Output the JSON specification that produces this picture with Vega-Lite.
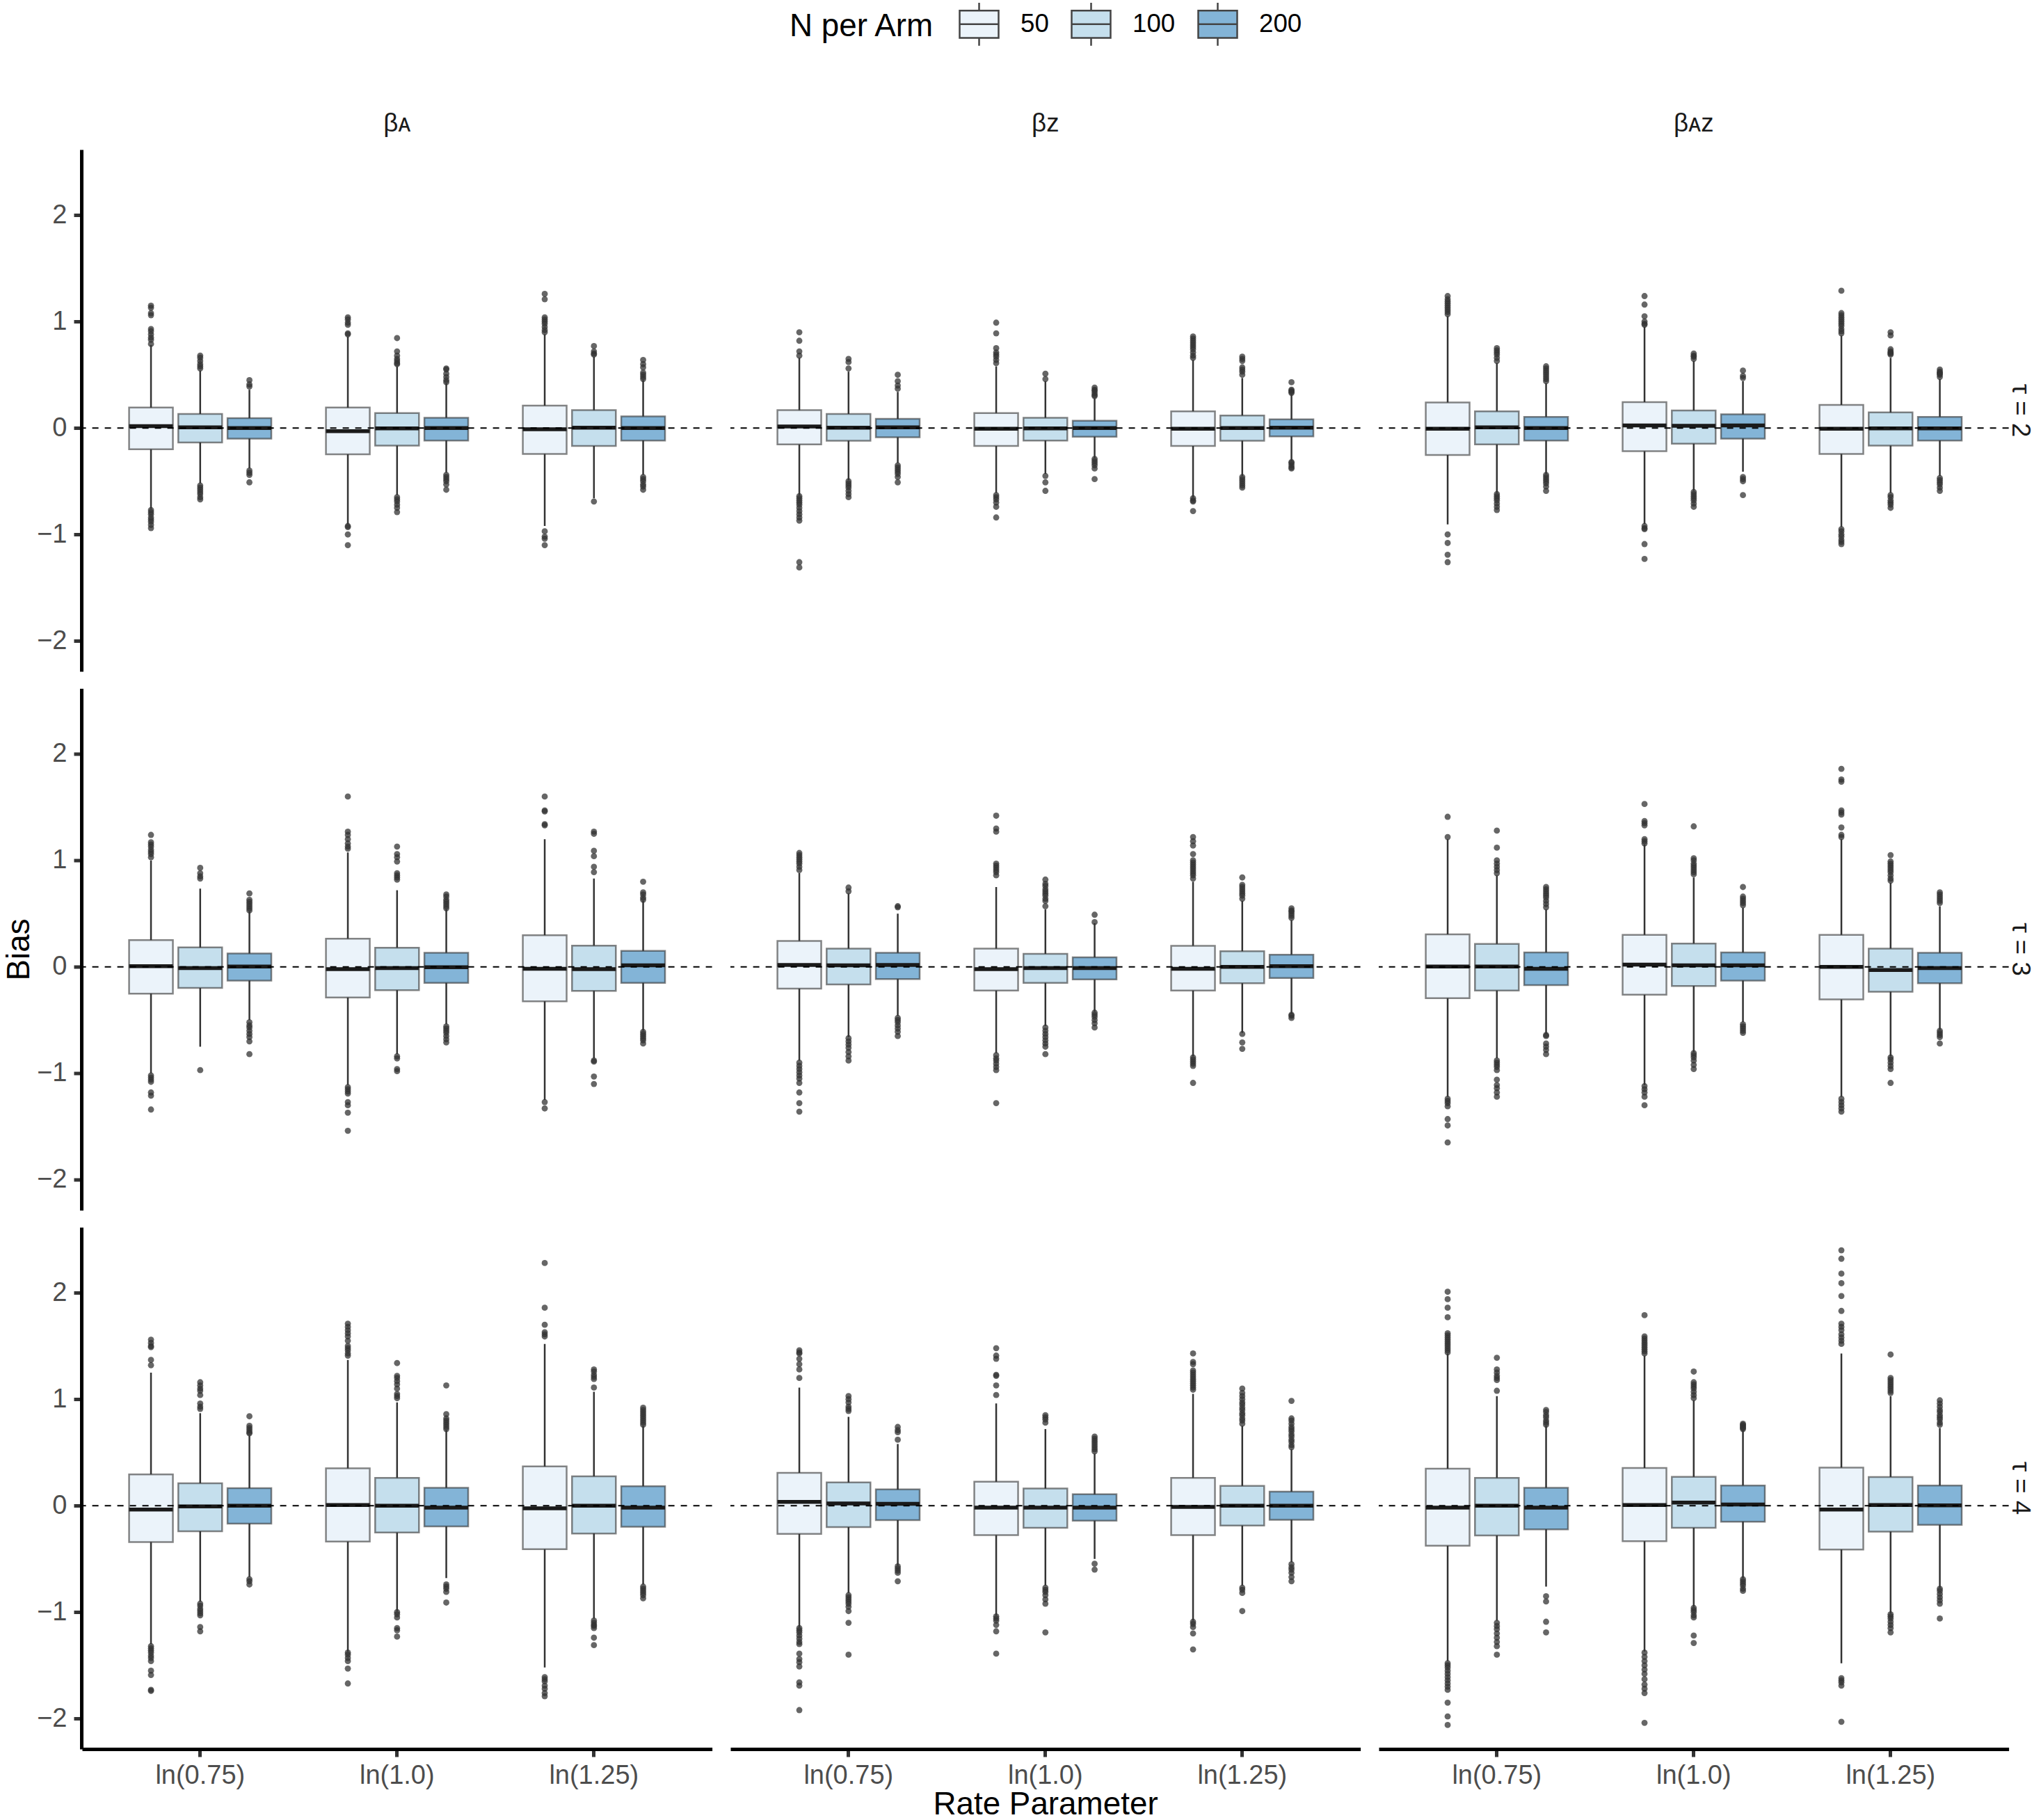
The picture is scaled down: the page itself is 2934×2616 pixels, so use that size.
{
  "$schema": "https://vega.github.io/schema/vega-lite/v6.json",
  "background": "white",
  "padding": {"left": 5, "top": 5, "right": 14, "bottom": 4},
  "data": {"values": [
    {"t":"τ = 2","p":"βᴀ","r":"ln(0.75)","N":"50","lo":-0.76,"q1":-0.2,"md":0.018,"q3":0.193,"hi":0.78,"out":[1.15,1.13,1.08,1.06,0.93,0.91,0.88,0.85,0.83,0.79,-0.77,-0.79,-0.81,-0.84,-0.86,-0.88,-0.91,-0.94]},
    {"t":"τ = 2","p":"βᴀ","r":"ln(0.75)","N":"100","lo":-0.52,"q1":-0.136,"md":0.007,"q3":0.132,"hi":0.54,"out":[0.68,0.66,0.63,0.6,0.58,0.56,-0.54,-0.56,-0.58,-0.6,-0.62,-0.65,-0.67]},
    {"t":"τ = 2","p":"βᴀ","r":"ln(0.75)","N":"200","lo":-0.38,"q1":-0.1,"md":0.0,"q3":0.093,"hi":0.36,"out":[0.45,0.41,0.39,-0.4,-0.42,-0.44,-0.51]},
    {"t":"τ = 2","p":"βᴀ","r":"ln(1.0)","N":"50","lo":-0.9,"q1":-0.247,"md":-0.029,"q3":0.193,"hi":0.86,"out":[1.04,1.02,0.99,0.97,0.89,0.88,-0.92,-0.93,-1.0,-1.1]},
    {"t":"τ = 2","p":"βᴀ","r":"ln(1.0)","N":"100","lo":-0.63,"q1":-0.165,"md":-0.004,"q3":0.14,"hi":0.58,"out":[0.845,0.72,0.68,0.65,0.63,0.61,0.6,-0.65,-0.67,-0.69,-0.72,-0.75,-0.79]},
    {"t":"τ = 2","p":"βᴀ","r":"ln(1.0)","N":"200","lo":-0.42,"q1":-0.118,"md":0.0,"q3":0.097,"hi":0.42,"out":[0.56,0.55,0.51,0.48,0.45,0.43,-0.44,-0.46,-0.48,-0.5,-0.53,-0.58]},
    {"t":"τ = 2","p":"βᴀ","r":"ln(1.25)","N":"50","lo":-0.92,"q1":-0.243,"md":-0.011,"q3":0.21,"hi":0.88,"out":[1.26,1.21,1.04,1.02,1.0,0.98,0.95,0.92,0.9,-0.97,-1.02,-1.04,-1.1]},
    {"t":"τ = 2","p":"βᴀ","r":"ln(1.25)","N":"100","lo":-0.66,"q1":-0.168,"md":0.004,"q3":0.168,"hi":0.67,"out":[0.77,0.72,0.7,0.69,-0.69]},
    {"t":"τ = 2","p":"βᴀ","r":"ln(1.25)","N":"200","lo":-0.44,"q1":-0.118,"md":0.0,"q3":0.11,"hi":0.45,"out":[0.64,0.6,0.57,0.52,0.5,0.48,0.46,-0.46,-0.48,-0.5,-0.53,-0.55,-0.58]},

    {"t":"τ = 2","p":"βᴢ","r":"ln(0.75)","N":"50","lo":-0.63,"q1":-0.154,"md":0.014,"q3":0.168,"hi":0.66,"out":[0.9,0.82,0.72,0.68,-0.64,-0.66,-0.68,-0.7,-0.72,-0.75,-0.78,-0.81,-0.84,-0.87,-1.26,-1.31]},
    {"t":"τ = 2","p":"βᴢ","r":"ln(0.75)","N":"100","lo":-0.49,"q1":-0.12,"md":0.004,"q3":0.132,"hi":0.53,"out":[0.65,0.62,0.56,-0.5,-0.52,-0.54,-0.56,-0.59,-0.62,-0.65]},
    {"t":"τ = 2","p":"βᴢ","r":"ln(0.75)","N":"200","lo":-0.33,"q1":-0.086,"md":0.007,"q3":0.086,"hi":0.34,"out":[0.5,0.44,0.4,0.37,-0.35,-0.37,-0.39,-0.41,-0.43,-0.46,-0.51]},
    {"t":"τ = 2","p":"βᴢ","r":"ln(1.0)","N":"50","lo":-0.61,"q1":-0.168,"md":-0.007,"q3":0.14,"hi":0.58,"out":[0.99,0.89,0.75,0.71,0.69,0.67,0.64,0.61,-0.63,-0.65,-0.67,-0.7,-0.74,-0.84]},
    {"t":"τ = 2","p":"βᴢ","r":"ln(1.0)","N":"100","lo":-0.43,"q1":-0.118,"md":-0.004,"q3":0.097,"hi":0.44,"out":[0.51,0.46,-0.45,-0.51,-0.59]},
    {"t":"τ = 2","p":"βᴢ","r":"ln(1.0)","N":"200","lo":-0.28,"q1":-0.082,"md":0.0,"q3":0.068,"hi":0.28,"out":[0.38,0.36,0.35,0.33,0.31,0.3,-0.29,-0.31,-0.33,-0.35,-0.38,-0.48]},
    {"t":"τ = 2","p":"βᴢ","r":"ln(1.25)","N":"50","lo":-0.65,"q1":-0.168,"md":-0.007,"q3":0.157,"hi":0.64,"out":[0.86,0.84,0.82,0.8,0.78,0.76,0.74,0.71,0.68,0.66,-0.66,-0.68,-0.69,-0.78]},
    {"t":"τ = 2","p":"βᴢ","r":"ln(1.25)","N":"100","lo":-0.45,"q1":-0.12,"md":0.0,"q3":0.118,"hi":0.47,"out":[0.67,0.65,0.63,0.57,0.55,0.53,0.5,-0.46,-0.48,-0.5,-0.52,-0.54,-0.56]},
    {"t":"τ = 2","p":"βᴢ","r":"ln(1.25)","N":"200","lo":-0.31,"q1":-0.079,"md":0.004,"q3":0.082,"hi":0.32,"out":[0.43,0.36,0.35,0.34,0.33,-0.32,-0.33,-0.35,-0.37,-0.38]},

    {"t":"τ = 2","p":"βᴀᴢ","r":"ln(0.75)","N":"50","lo":-0.905,"q1":-0.254,"md":-0.007,"q3":0.24,"hi":1.05,"out":[1.24,1.21,1.19,1.17,1.15,1.13,1.11,1.09,1.07,-1.0,-1.08,-1.19,-1.26]},
    {"t":"τ = 2","p":"βᴀᴢ","r":"ln(0.75)","N":"100","lo":-0.61,"q1":-0.154,"md":0.007,"q3":0.157,"hi":0.61,"out":[0.75,0.73,0.71,0.69,0.66,0.63,-0.62,-0.64,-0.66,-0.68,-0.71,-0.74,-0.77]},
    {"t":"τ = 2","p":"βᴀᴢ","r":"ln(0.75)","N":"200","lo":-0.43,"q1":-0.118,"md":0.0,"q3":0.104,"hi":0.42,"out":[0.58,0.56,0.54,0.52,0.5,0.48,0.46,0.44,-0.44,-0.46,-0.48,-0.5,-0.52,-0.55,-0.59]},
    {"t":"τ = 2","p":"βᴀᴢ","r":"ln(1.0)","N":"50","lo":-0.9,"q1":-0.218,"md":0.025,"q3":0.243,"hi":0.95,"out":[1.24,1.16,1.05,1.0,0.98,0.97,-0.92,-0.94,-0.95,-1.09,-1.23]},
    {"t":"τ = 2","p":"βᴀᴢ","r":"ln(1.0)","N":"100","lo":-0.59,"q1":-0.147,"md":0.021,"q3":0.165,"hi":0.63,"out":[0.7,0.68,0.67,0.65,-0.6,-0.62,-0.64,-0.66,-0.68,-0.71,-0.74]},
    {"t":"τ = 2","p":"βᴀᴢ","r":"ln(1.0)","N":"200","lo":-0.41,"q1":-0.1,"md":0.025,"q3":0.129,"hi":0.44,"out":[0.54,0.49,0.47,-0.46,-0.48,-0.5,-0.63]},
    {"t":"τ = 2","p":"βᴀᴢ","r":"ln(1.25)","N":"50","lo":-0.93,"q1":-0.243,"md":-0.007,"q3":0.218,"hi":0.87,"out":[1.29,1.08,1.06,1.04,1.02,1.0,0.98,0.96,0.93,0.91,0.89,-0.95,-0.97,-1.0,-1.02,-1.05,-1.07,-1.09]},
    {"t":"τ = 2","p":"βᴀᴢ","r":"ln(1.25)","N":"100","lo":-0.61,"q1":-0.165,"md":-0.004,"q3":0.147,"hi":0.66,"out":[0.9,0.87,0.74,0.72,0.71,0.7,0.69,-0.63,-0.65,-0.68,-0.7,-0.72,-0.75]},
    {"t":"τ = 2","p":"βᴀᴢ","r":"ln(1.25)","N":"200","lo":-0.45,"q1":-0.118,"md":-0.004,"q3":0.104,"hi":0.46,"out":[0.55,0.53,0.52,0.51,0.5,0.48,-0.47,-0.49,-0.51,-0.53,-0.56,-0.59]},

    {"t":"τ = 3","p":"βᴀ","r":"ln(0.75)","N":"50","lo":-1.0,"q1":-0.251,"md":0.007,"q3":0.251,"hi":1.0,"out":[1.24,1.17,1.15,1.13,1.1,1.08,1.06,1.03,-1.02,-1.04,-1.06,-1.08,-1.18,-1.21,-1.34]},
    {"t":"τ = 3","p":"βᴀ","r":"ln(0.75)","N":"100","lo":-0.75,"q1":-0.197,"md":-0.011,"q3":0.183,"hi":0.735,"out":[0.93,0.88,0.85,0.83,-0.97]},
    {"t":"τ = 3","p":"βᴀ","r":"ln(0.75)","N":"200","lo":-0.5,"q1":-0.129,"md":0.004,"q3":0.125,"hi":0.52,"out":[0.69,0.63,0.61,0.59,0.57,0.55,0.53,-0.52,-0.55,-0.57,-0.6,-0.63,-0.66,-0.7,-0.82]},
    {"t":"τ = 3","p":"βᴀ","r":"ln(1.0)","N":"50","lo":-1.11,"q1":-0.287,"md":-0.022,"q3":0.265,"hi":1.075,"out":[1.6,1.27,1.24,1.2,1.16,1.13,1.11,-1.13,-1.15,-1.17,-1.19,-1.27,-1.3,-1.37,-1.54]},
    {"t":"τ = 3","p":"βᴀ","r":"ln(1.0)","N":"100","lo":-0.82,"q1":-0.219,"md":-0.011,"q3":0.179,"hi":0.72,"out":[1.13,1.06,1.03,0.99,0.88,0.86,0.84,0.82,-0.84,-0.86,-0.96,-0.98]},
    {"t":"τ = 3","p":"βᴀ","r":"ln(1.0)","N":"200","lo":-0.54,"q1":-0.15,"md":-0.004,"q3":0.133,"hi":0.54,"out":[0.68,0.66,0.63,0.61,0.59,0.57,0.55,-0.56,-0.58,-0.6,-0.62,-0.65,-0.68,-0.71]},
    {"t":"τ = 3","p":"βᴀ","r":"ln(1.25)","N":"50","lo":-1.25,"q1":-0.323,"md":-0.018,"q3":0.297,"hi":1.2,"out":[1.6,1.47,1.46,1.34,1.33,-1.27,-1.33]},
    {"t":"τ = 3","p":"βᴀ","r":"ln(1.25)","N":"100","lo":-0.86,"q1":-0.226,"md":-0.022,"q3":0.2,"hi":0.83,"out":[1.27,1.25,1.09,1.04,0.94,0.89,-0.88,-0.89,-1.03,-1.1]},
    {"t":"τ = 3","p":"βᴀ","r":"ln(1.25)","N":"200","lo":-0.6,"q1":-0.15,"md":0.014,"q3":0.15,"hi":0.62,"out":[0.8,0.7,0.68,0.65,0.63,-0.61,-0.63,-0.65,-0.67,-0.69,-0.72]},

    {"t":"τ = 3","p":"βᴢ","r":"ln(0.75)","N":"50","lo":-0.88,"q1":-0.204,"md":0.018,"q3":0.244,"hi":0.88,"out":[1.07,1.05,1.03,1.01,0.99,0.97,0.94,0.91,-0.9,-0.93,-0.96,-0.99,-1.02,-1.05,-1.09,-1.18,-1.28,-1.36]},
    {"t":"τ = 3","p":"βᴢ","r":"ln(0.75)","N":"100","lo":-0.66,"q1":-0.165,"md":0.014,"q3":0.172,"hi":0.69,"out":[0.745,0.71,-0.67,-0.7,-0.73,-0.76,-0.8,-0.84,-0.88]},
    {"t":"τ = 3","p":"βᴢ","r":"ln(0.75)","N":"200","lo":-0.46,"q1":-0.115,"md":0.018,"q3":0.133,"hi":0.5,"out":[0.57,0.56,-0.48,-0.5,-0.52,-0.55,-0.58,-0.61,-0.65]},
    {"t":"τ = 3","p":"βᴢ","r":"ln(1.0)","N":"50","lo":-0.81,"q1":-0.222,"md":-0.022,"q3":0.172,"hi":0.75,"out":[1.42,1.3,1.27,0.97,0.95,0.93,0.91,0.89,0.86,-0.83,-0.86,-0.88,-0.91,-0.94,-0.97,-1.28]},
    {"t":"τ = 3","p":"βᴢ","r":"ln(1.0)","N":"100","lo":-0.555,"q1":-0.15,"md":-0.011,"q3":0.122,"hi":0.54,"out":[0.82,0.78,0.76,0.73,0.71,0.69,0.67,0.64,0.62,0.57,-0.57,-0.6,-0.63,-0.66,-0.69,-0.72,-0.75,-0.82]},
    {"t":"τ = 3","p":"βᴢ","r":"ln(1.0)","N":"200","lo":-0.42,"q1":-0.118,"md":-0.011,"q3":0.09,"hi":0.41,"out":[0.49,0.42,-0.43,-0.45,-0.47,-0.5,-0.53,-0.57]},
    {"t":"τ = 3","p":"βᴢ","r":"ln(1.25)","N":"50","lo":-0.84,"q1":-0.222,"md":-0.018,"q3":0.197,"hi":0.8,"out":[1.22,1.18,1.14,1.06,1.0,0.98,0.96,0.94,0.92,0.9,0.88,0.86,0.83,-0.85,-0.87,-0.89,-0.91,-0.93,-1.09]},
    {"t":"τ = 3","p":"βᴢ","r":"ln(1.25)","N":"100","lo":-0.62,"q1":-0.154,"md":0.0,"q3":0.147,"hi":0.62,"out":[0.84,0.77,0.75,0.73,0.71,0.69,0.67,0.64,-0.63,-0.71,-0.77]},
    {"t":"τ = 3","p":"βᴢ","r":"ln(1.25)","N":"200","lo":-0.44,"q1":-0.104,"md":0.007,"q3":0.115,"hi":0.44,"out":[0.55,0.53,0.52,0.5,0.48,0.46,-0.45,-0.46,-0.48]},

    {"t":"τ = 3","p":"βᴀᴢ","r":"ln(0.75)","N":"50","lo":-1.22,"q1":-0.294,"md":0.004,"q3":0.305,"hi":1.2,"out":[1.41,1.22,-1.24,-1.26,-1.28,-1.31,-1.43,-1.49,-1.65]},
    {"t":"τ = 3","p":"βᴀᴢ","r":"ln(0.75)","N":"100","lo":-0.86,"q1":-0.222,"md":0.004,"q3":0.215,"hi":0.86,"out":[1.28,1.12,1.0,0.97,0.94,0.91,0.88,-0.88,-0.9,-0.92,-0.94,-0.97,-1.06,-1.11,-1.14,-1.18,-1.22]},
    {"t":"τ = 3","p":"βᴀᴢ","r":"ln(0.75)","N":"200","lo":-0.63,"q1":-0.172,"md":-0.018,"q3":0.136,"hi":0.54,"out":[0.75,0.73,0.71,0.69,0.67,0.65,0.62,0.59,0.56,-0.64,-0.65,-0.72,-0.75,-0.78,-0.82]},
    {"t":"τ = 3","p":"βᴀᴢ","r":"ln(1.0)","N":"50","lo":-1.11,"q1":-0.262,"md":0.022,"q3":0.3,"hi":1.15,"out":[1.53,1.37,1.35,1.33,1.2,1.18,1.16,-1.12,-1.15,-1.18,-1.22,-1.3]},
    {"t":"τ = 3","p":"βᴀᴢ","r":"ln(1.0)","N":"100","lo":-0.8,"q1":-0.179,"md":0.014,"q3":0.219,"hi":0.84,"out":[1.32,1.02,1.0,0.97,0.95,0.93,0.91,0.89,0.87,-0.81,-0.83,-0.85,-0.88,-0.92,-0.96]},
    {"t":"τ = 3","p":"βᴀᴢ","r":"ln(1.0)","N":"200","lo":-0.52,"q1":-0.129,"md":0.014,"q3":0.136,"hi":0.555,"out":[0.75,0.66,0.64,0.62,0.6,0.58,-0.54,-0.56,-0.58,-0.6,-0.62]},
    {"t":"τ = 3","p":"βᴀᴢ","r":"ln(1.25)","N":"50","lo":-1.22,"q1":-0.305,"md":0.0,"q3":0.3,"hi":1.2,"out":[1.86,1.76,1.74,1.47,1.45,1.43,1.31,1.24,1.22,-1.24,-1.27,-1.3,-1.33,-1.36]},
    {"t":"τ = 3","p":"βᴀᴢ","r":"ln(1.25)","N":"100","lo":-0.84,"q1":-0.233,"md":-0.029,"q3":0.172,"hi":0.79,"out":[1.05,0.99,0.97,0.95,0.93,0.91,0.89,0.86,0.83,0.81,-0.85,-0.87,-0.9,-0.93,-0.96,-1.09]},
    {"t":"τ = 3","p":"βᴀᴢ","r":"ln(1.25)","N":"200","lo":-0.59,"q1":-0.154,"md":-0.011,"q3":0.133,"hi":0.57,"out":[0.7,0.68,0.66,0.64,0.62,0.6,-0.6,-0.62,-0.64,-0.66,-0.72]},

    {"t":"τ = 4","p":"βᴀ","r":"ln(0.75)","N":"50","lo":-1.3,"q1":-0.341,"md":-0.036,"q3":0.294,"hi":1.25,"out":[1.56,1.53,1.5,1.49,1.37,1.32,-1.32,-1.34,-1.36,-1.38,-1.41,-1.43,-1.46,-1.55,-1.59,-1.73,-1.74]},
    {"t":"τ = 4","p":"βᴀ","r":"ln(0.75)","N":"100","lo":-0.9,"q1":-0.24,"md":-0.007,"q3":0.211,"hi":0.87,"out":[1.16,1.13,1.1,1.08,1.04,0.96,0.93,0.91,-0.92,-0.94,-0.97,-0.99,-1.01,-1.03,-1.14,-1.18]},
    {"t":"τ = 4","p":"βᴀ","r":"ln(0.75)","N":"200","lo":-0.67,"q1":-0.168,"md":0.0,"q3":0.165,"hi":0.66,"out":[0.84,0.75,0.73,0.71,0.69,0.68,-0.69,-0.71,-0.74]},
    {"t":"τ = 4","p":"βᴀ","r":"ln(1.0)","N":"50","lo":-1.37,"q1":-0.337,"md":0.007,"q3":0.351,"hi":1.37,"out":[1.71,1.68,1.65,1.62,1.59,1.55,1.5,1.48,1.46,1.43,1.41,-1.38,-1.4,-1.43,-1.46,-1.53,-1.67]},
    {"t":"τ = 4","p":"βᴀ","r":"ln(1.0)","N":"100","lo":-0.99,"q1":-0.251,"md":0.0,"q3":0.262,"hi":0.97,"out":[1.34,1.22,1.2,1.17,1.14,1.1,1.05,1.03,1.01,-1.0,-1.02,-1.05,-1.15,-1.17,-1.23]},
    {"t":"τ = 4","p":"βᴀ","r":"ln(1.0)","N":"200","lo":-0.68,"q1":-0.194,"md":-0.018,"q3":0.168,"hi":0.71,"out":[1.13,0.86,0.82,0.8,0.78,0.76,0.74,0.72,-0.74,-0.76,-0.78,-0.81,-0.91]},
    {"t":"τ = 4","p":"βᴀ","r":"ln(1.25)","N":"50","lo":-1.52,"q1":-0.409,"md":-0.025,"q3":0.369,"hi":1.52,"out":[2.28,1.86,1.7,1.63,1.61,1.59,-1.61,-1.63,-1.65,-1.69,-1.72,-1.76,-1.79]},
    {"t":"τ = 4","p":"βᴀ","r":"ln(1.25)","N":"100","lo":-1.06,"q1":-0.262,"md":0.0,"q3":0.276,"hi":1.07,"out":[1.28,1.26,1.23,1.21,1.19,1.11,-1.08,-1.1,-1.12,-1.13,-1.15,-1.24,-1.31]},
    {"t":"τ = 4","p":"βᴀ","r":"ln(1.25)","N":"200","lo":-0.74,"q1":-0.197,"md":-0.018,"q3":0.183,"hi":0.75,"out":[0.92,0.9,0.88,0.86,0.84,0.82,0.8,0.78,0.76,-0.76,-0.78,-0.8,-0.82,-0.84,-0.87]},

    {"t":"τ = 4","p":"βᴢ","r":"ln(0.75)","N":"50","lo":-1.14,"q1":-0.265,"md":0.036,"q3":0.308,"hi":1.11,"out":[1.46,1.44,1.43,1.38,1.33,1.28,1.2,-1.15,-1.17,-1.19,-1.22,-1.25,-1.28,-1.3,-1.39,-1.44,-1.47,-1.51,-1.66,-1.69,-1.92]},
    {"t":"τ = 4","p":"βᴢ","r":"ln(0.75)","N":"100","lo":-0.82,"q1":-0.201,"md":0.022,"q3":0.219,"hi":0.835,"out":[1.03,1.0,0.97,0.93,0.91,0.89,-0.84,-0.86,-0.88,-0.9,-0.92,-0.95,-0.99,-1.1,-1.4]},
    {"t":"τ = 4","p":"βᴢ","r":"ln(0.75)","N":"200","lo":-0.56,"q1":-0.136,"md":0.018,"q3":0.154,"hi":0.58,"out":[0.74,0.71,0.69,0.62,-0.57,-0.59,-0.61,-0.63,-0.71]},
    {"t":"τ = 4","p":"βᴢ","r":"ln(1.0)","N":"50","lo":-1.03,"q1":-0.276,"md":-0.018,"q3":0.226,"hi":0.96,"out":[1.48,1.41,1.38,1.23,1.22,1.13,1.04,-1.04,-1.06,-1.08,-1.12,-1.18,-1.39]},
    {"t":"τ = 4","p":"βᴢ","r":"ln(1.0)","N":"100","lo":-0.75,"q1":-0.208,"md":-0.018,"q3":0.161,"hi":0.72,"out":[0.85,0.83,0.81,0.78,-0.77,-0.79,-0.81,-0.84,-0.88,-0.92,-1.19]},
    {"t":"τ = 4","p":"βᴢ","r":"ln(1.0)","N":"200","lo":-0.5,"q1":-0.14,"md":-0.018,"q3":0.108,"hi":0.49,"out":[0.65,0.63,0.61,0.59,0.57,0.55,0.53,0.51,-0.545,-0.6]},
    {"t":"τ = 4","p":"βᴢ","r":"ln(1.25)","N":"50","lo":-1.08,"q1":-0.276,"md":-0.011,"q3":0.262,"hi":1.05,"out":[1.43,1.35,1.33,1.27,1.25,1.23,1.21,1.19,1.17,1.15,1.13,1.11,1.09,-1.09,-1.11,-1.14,-1.2,-1.35]},
    {"t":"τ = 4","p":"βᴢ","r":"ln(1.25)","N":"100","lo":-0.75,"q1":-0.186,"md":0.0,"q3":0.186,"hi":0.75,"out":[1.1,1.06,1.03,1.0,0.97,0.95,0.92,0.9,0.87,0.85,0.82,0.8,0.77,-0.77,-0.79,-0.82,-0.99]},
    {"t":"τ = 4","p":"βᴢ","r":"ln(1.25)","N":"200","lo":-0.53,"q1":-0.133,"md":0.0,"q3":0.133,"hi":0.53,"out":[0.985,0.82,0.8,0.77,0.74,0.72,0.7,0.67,0.65,0.62,0.6,0.57,0.55,-0.55,-0.58,-0.6,-0.63,-0.67,-0.71]},

    {"t":"τ = 4","p":"βᴀᴢ","r":"ln(0.75)","N":"50","lo":-1.46,"q1":-0.376,"md":-0.018,"q3":0.348,"hi":1.43,"out":[2.01,1.94,1.86,1.77,1.62,1.6,1.58,1.56,1.54,1.52,1.5,1.48,1.46,1.44,-1.48,-1.5,-1.52,-1.55,-1.58,-1.61,-1.64,-1.67,-1.7,-1.73,-1.85,-1.98,-2.06]},
    {"t":"τ = 4","p":"βᴀᴢ","r":"ln(0.75)","N":"100","lo":-1.08,"q1":-0.28,"md":0.0,"q3":0.262,"hi":1.03,"out":[1.39,1.28,1.25,1.22,1.2,1.18,1.08,-1.1,-1.13,-1.16,-1.2,-1.24,-1.28,-1.32,-1.4]},
    {"t":"τ = 4","p":"βᴀᴢ","r":"ln(0.75)","N":"200","lo":-0.76,"q1":-0.222,"md":-0.018,"q3":0.168,"hi":0.75,"out":[0.9,0.88,0.85,0.83,0.8,0.78,0.76,-0.85,-0.9,-1.09,-1.19]},
    {"t":"τ = 4","p":"βᴀᴢ","r":"ln(1.0)","N":"50","lo":-1.37,"q1":-0.333,"md":0.007,"q3":0.355,"hi":1.41,"out":[1.79,1.59,1.57,1.55,1.53,1.51,1.49,1.47,1.45,1.43,-1.38,-1.42,-1.46,-1.5,-1.54,-1.58,-1.63,-1.68,-1.72,-1.76,-2.04]},
    {"t":"τ = 4","p":"βᴀᴢ","r":"ln(1.0)","N":"100","lo":-0.95,"q1":-0.208,"md":0.029,"q3":0.272,"hi":0.99,"out":[1.26,1.16,1.14,1.12,1.1,1.07,1.04,1.01,-0.96,-0.98,-1.0,-1.03,-1.05,-1.22,-1.29]},
    {"t":"τ = 4","p":"βᴀᴢ","r":"ln(1.0)","N":"200","lo":-0.68,"q1":-0.15,"md":0.011,"q3":0.19,"hi":0.71,"out":[0.77,0.76,0.75,0.74,0.73,0.72,-0.69,-0.71,-0.73,-0.75,-0.78,-0.8]},
    {"t":"τ = 4","p":"βᴀᴢ","r":"ln(1.25)","N":"50","lo":-1.48,"q1":-0.412,"md":-0.036,"q3":0.358,"hi":1.43,"out":[2.4,2.32,2.18,2.09,1.97,1.83,1.71,1.68,1.65,1.61,1.58,1.55,1.52,-1.62,-1.64,-1.66,-1.69,-2.03]},
    {"t":"τ = 4","p":"βᴀᴢ","r":"ln(1.25)","N":"100","lo":-1.01,"q1":-0.244,"md":0.007,"q3":0.269,"hi":1.03,"out":[1.42,1.2,1.18,1.16,1.14,1.12,1.1,1.08,1.06,-1.02,-1.04,-1.06,-1.09,-1.12,-1.15,-1.19]},
    {"t":"τ = 4","p":"βᴀᴢ","r":"ln(1.25)","N":"200","lo":-0.77,"q1":-0.179,"md":0.004,"q3":0.19,"hi":0.73,"out":[0.99,0.96,0.93,0.9,0.88,0.85,0.83,0.81,0.78,0.76,-0.78,-0.8,-0.83,-0.86,-0.89,-0.92,-1.06]}
  ]},
  "facet": {
    "row": {"field": "t", "type": "nominal", "sort": ["τ = 2", "τ = 3", "τ = 4"],
      "header": {"title": "Bias", "titleOrient": "left", "titleAngle": -90, "titleFontSize": 45.8, "titleFont": "Liberation Sans", "titleFontWeight": "normal", "titleColor": "#000000", "titlePadding": -56,
        "labelOrient": "right", "labelAngle": 90, "labelFontSize": 36.7, "labelColor": "#1A1A1A", "labelFont": "Liberation Sans", "labelPadding": -4}},
    "column": {"field": "p", "type": "nominal", "sort": ["βᴀ", "βᴢ", "βᴀᴢ"],
      "header": {"title": "Rate Parameter", "titleOrient": "bottom", "titleFontSize": 45.8, "titleFont": "Liberation Sans", "titleFontWeight": "normal", "titleColor": "#000000", "titlePadding": -9,
        "labelOrient": "top", "labelFontSize": 36.7, "labelColor": "#1A1A1A", "labelFont": "Liberation Sans", "labelPadding": 18}}
  },
  "spacing": {"row": 24.5, "column": 24},
  "spec": {
    "width": 905.6,
    "height": 750,
    "layer": [
      {
        "mark": {"type": "rule", "color": "#333333", "strokeWidth": 2.5},
        "encoding": {
          "x": {"field": "r", "type": "nominal", "sort": ["ln(0.75)", "ln(1.0)", "ln(1.25)"], "scale": {"paddingInner": 0, "paddingOuter": 0.1}, "title": null},
          "xOffset": {"field": "N", "type": "nominal", "sort": ["50", "100", "200"], "scale": {"paddingInner": 0.11, "paddingOuter": 0.555}},
          "y": {"field": "lo", "type": "quantitative", "scale": {"domain": [-2.286, 2.616], "nice": false, "zero": false}, "axis": {"values": [-2, -1, 0, 1, 2], "format": "d"}, "title": null},
          "y2": {"field": "hi"}
        }
      },
      {
        "mark": {"type": "bar", "stroke": "#333333", "strokeOpacity": 0.6, "strokeWidth": 2.5},
        "encoding": {
          "x": {"field": "r", "type": "nominal", "sort": ["ln(0.75)", "ln(1.0)", "ln(1.25)"], "title": null},
          "xOffset": {"field": "N", "type": "nominal", "sort": ["50", "100", "200"]},
          "y": {"field": "q1", "type": "quantitative", "title": null},
          "y2": {"field": "q3"},
          "color": {"field": "N", "type": "nominal", "sort": ["50", "100", "200"],
            "scale": {"range": ["#EBF3FA", "#C5DFED", "#83B4D7"]},
            "legend": {"title": "N per Arm", "orient": "none", "direction": "horizontal", "legendX": 1017, "legendY": -210, "titleOrient": "left", "titleLimit": 600,
              "symbolType": "M-1,-0.7H1V0.7H-1Z M0,-0.7V-1.1 M0,0.7V1.1 M-1,0H1", "symbolSize": 3136, "symbolStrokeColor": "#444444", "symbolStrokeWidth": 2.5,
              "labelFontSize": 36.7, "labelFont": "Liberation Sans", "labelColor": "#000000", "titleFontSize": 45.8, "titleFont": "Liberation Sans", "titleFontWeight": "normal", "titleColor": "#000000",
              "labelOffset": 30, "columnPadding": 27, "titlePadding": 34}}
        }
      },
      {
        "mark": {"type": "tick", "color": "#1A1A1A", "opacity": 1, "thickness": 5.5, "size": 63, "orient": "horizontal"},
        "encoding": {
          "x": {"field": "r", "type": "nominal", "sort": ["ln(0.75)", "ln(1.0)", "ln(1.25)"], "title": null},
          "xOffset": {"field": "N", "type": "nominal", "sort": ["50", "100", "200"]},
          "y": {"field": "md", "type": "quantitative", "title": null}
        }
      },
      {
        "transform": [{"flatten": ["out"]}],
        "mark": {"type": "circle", "color": "#333333", "opacity": 0.75, "size": 78},
        "encoding": {
          "x": {"field": "r", "type": "nominal", "sort": ["ln(0.75)", "ln(1.0)", "ln(1.25)"], "title": null},
          "xOffset": {"field": "N", "type": "nominal", "sort": ["50", "100", "200"]},
          "y": {"field": "out", "type": "quantitative", "title": null}
        }
      },
      {
        "transform": [{"filter": "datum.r === 'ln(1.0)' && datum.N === '100'"}],
        "mark": {"type": "rule", "color": "#000000", "strokeWidth": 2, "strokeDash": [9, 9]},
        "encoding": {
          "y": {"datum": 0}
        }
      }
    ]
  },
  "config": {
    "view": {"stroke": null},
    "font": "Liberation Sans",
    "axis": {"grid": false, "domainColor": "#000000", "domainWidth": 5, "tickColor": "#333333", "tickWidth": 5, "tickSize": 11, "labelFontSize": 38, "labelColor": "#4D4D4D", "labelFont": "Liberation Sans", "labelPadding": 10},
    "axisX": {"labelAngle": 0, "labelPadding": 8}
  }
}
